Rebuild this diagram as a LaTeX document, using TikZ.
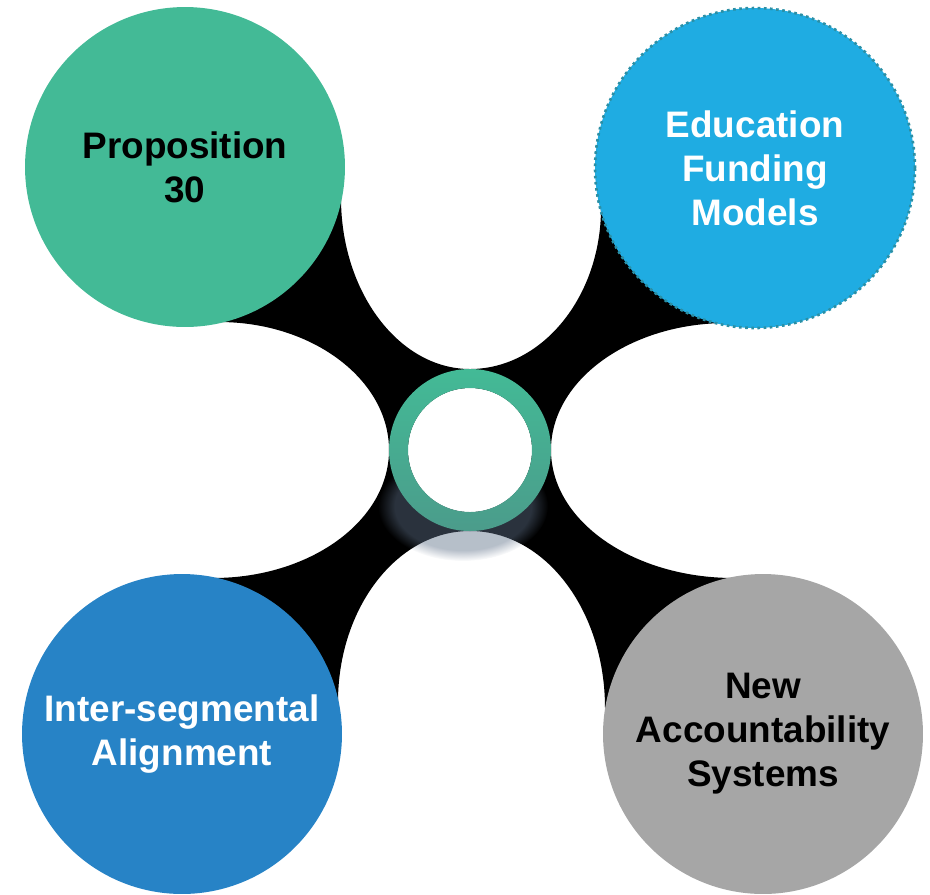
\documentclass[tikz,border=0pt]{standalone}
\usepackage{fontspec}
\setmainfont{Liberation Sans}
\usetikzlibrary{fadings}
\definecolor{propgreen}{HTML}{43BA96}
\definecolor{fundblue}{HTML}{1FACE2}
\definecolor{fundedge}{HTML}{2B8FA5}
\definecolor{alignblue}{HTML}{2783C6}
\definecolor{acctgray}{HTML}{A6A6A6}
\definecolor{hubdark}{HTML}{4B9C8B}
\definecolor{glow}{HTML}{5E7088}
\tikzset{
  bubble/.style={circle, minimum size=6.4cm, inner sep=0pt, align=center,
    font=\fontsize{21}{25}\selectfont\bfseries},
}
\begin{document}
\begin{tikzpicture}[x=0.02cm, y=-0.02cm]
  \useasboundingbox (0,0) rectangle (930,894);
  \coordinate (c1) at (185,167);
  \coordinate (c2) at (755,168);
  \coordinate (c3) at (763,734);
  \coordinate (c4) at (182,734);
  \coordinate (hub) at (470,450);
  % black cross between the four bubbles
  \fill[black] (341,198) .. controls (341,292) and (399,369) .. (470,369)
    .. controls (542,369) and (601,297) .. (601,208) -- (c2)
    -- (727,323) .. controls (630,323) and (551,380) .. (551,450)
    .. controls (551,521) and (633,578) .. (734,578) -- (c3)
    -- (605,708) .. controls (605,610) and (545,531) .. (470,531)
    .. controls (397,531) and (338,608) .. (338,702) -- (c4)
    -- (213,578) .. controls (310,578) and (389,521) .. (389,450)
    .. controls (389,380) and (313,322) .. (219,322) -- (c1) -- cycle;
  \fill[glow, opacity=0.45, path fading=circle with fuzzy edge 20 percent]
    (463,506) ellipse[x radius=85, y radius=55];
  \node[bubble, fill=propgreen] (prop) at (c1) {Proposition\\30};
  \node[bubble, fill=fundblue, draw=fundedge, dotted, line width=1.5pt,
    text=white] (fund) at (c2) {Education\\Funding\\Models};
  \node[bubble, fill=acctgray] (acct) at (c3) {New\\Accountability\\Systems};
  \node[bubble, fill=alignblue, text=white] (align) at (c4)
    {Inter-segmental\\Alignment};
  % ring in the middle
  \fill[white] (hub) circle[radius=62];
  \shade[top color=propgreen, bottom color=hubdark, even odd rule]
    (hub) circle[radius=81] (hub) circle[radius=62];
\end{tikzpicture}
\end{document}
